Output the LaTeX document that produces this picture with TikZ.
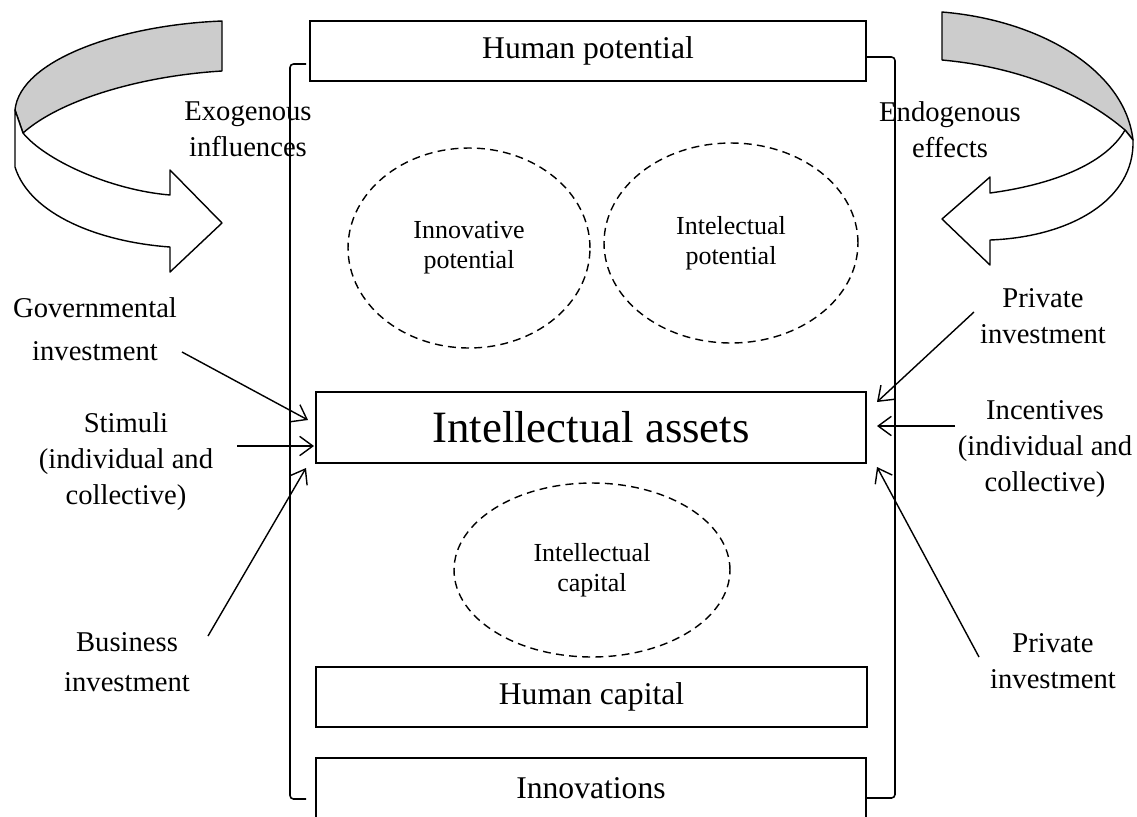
\documentclass[tikz,border=0pt]{standalone}
\usepackage{fontspec}
\setmainfont{Liberation Serif}
\usepackage{tikz}
\usetikzlibrary{shapes, arrows.meta, positioning, calc}

\tikzset{
  panel/.style={draw, line width=1.1pt, minimum width=11cm, minimum height=1.2cm, inner sep=0pt, font=\fontsize{18}{22}\selectfont},
  oval/.style={draw, ellipse, dash pattern=on 4.5pt off 3pt, line width=0.8pt, inner sep=0pt, align=center, font=\fontsize{14.8}{17}\selectfont},
  sidetext/.style={align=center, inner sep=0pt, font=\fontsize{16.3}{20.5}\selectfont},
  feed/.style={line width=0.8pt, -{Straight Barb[length=7.5pt,width=11pt]}},
  bracket/.style={line width=0.9pt, rounded corners=2pt},
  swirl/.style={line width=0.8pt, line join=round}
}

\begin{document}
\begin{tikzpicture}[x=0.02cm, y=-0.02cm]
  \path[use as bounding box, clip] (0,0) rectangle (1137,816);

  % boxes
  \node[panel, minimum width=11.12cm] (hpot) at (588,51) {Human potential};
  \node[panel, minimum height=1.42cm, font=\fontsize{25.5}{30}\selectfont] (assets) at (591,427.5) {Intellectual assets};
  \node[panel, minimum width=11.02cm] (hcap) at (591.5,697) {Human capital};
  \node[panel] (innov) at (591,788) {Innovations};

  % dashed ovals
  \node[oval, minimum width=4.84cm, minimum height=4cm] (ipot) at (469,248) {Innovative\\potential};
  \node[oval, minimum width=5.08cm, minimum height=4cm] (lpot) at (731,243) {Intelectual\\potential};
  \node[oval, minimum width=5.52cm, minimum height=3.48cm] (icap) at (592,570) {Intellectual\\capital};

  % side labels
  \node[sidetext] (exo) at (248,129) {Exogenous\\influences};
  \node[sidetext] (endo) at (950,130) {Endogenous\\effects};
  \node[sidetext] (gov) at (95,329) {Governmental\\[4pt]investment};
  \node[sidetext] (stim) at (126,462) {Stimuli\\(individual and\\collective)};
  \node[sidetext] (bus) at (127,662) {Business\\[2pt]investment};
  \node[sidetext] (privA) at (1043,316) {Private\\investment};
  \node[sidetext] (incent) at (1045,449) {Incentives\\(individual and\\collective)};
  \node[sidetext] (privB) at (1053,661) {Private\\investment};

  % brackets
  \draw[bracket] (306,64) -- (290,64) -- (290,799) -- (306,799);
  \draw[bracket] (866,57) -- (895,57) -- (895,798) -- (866,798);

  % curved arrows
  \filldraw[swirl, fill=black!20] (222,21) .. controls (120,25) and (20,60) .. (15,110) -- (23,133) .. controls (60,100) and (140,76) .. (222,71) -- cycle;
  \draw[swirl, fill=white] (15,110) -- (15,167) .. controls (30,215) and (100,242) .. (170,247) -- (170,272) -- (222,223) -- (170,170) -- (170,195) .. controls (110,190) and (45,160) .. (23,133) -- cycle;
  \filldraw[swirl, fill=black!20] (942,12) .. controls (1040,20) and (1125,70) .. (1133,140) -- (1125,130) .. controls (1090,100) and (1030,68) .. (942,60) -- cycle;
  \draw[swirl, fill=white] (1133,140) .. controls (1135,200) and (1070,237) .. (990,240) -- (990,265) -- (942,219) -- (990,177) -- (990,193) .. controls (1050,185) and (1105,165) .. (1125,130) -- cycle;

  % inputs to the assets box
  \coordinate (gov-o) at (182,352);
  \coordinate (stim-o) at (237,446);
  \coordinate (bus-o) at (208,636);
  \coordinate (privA-o) at (974,312);
  \coordinate (incent-o) at (955,426);
  \coordinate (privB-o) at (979,657);
  \coordinate (assets-g) at (308,420);
  \coordinate (assets-s) at (314,446);
  \coordinate (assets-b) at (306,468);
  \coordinate (assets-p) at (877,402);
  \coordinate (assets-i) at (877,426);
  \coordinate (assets-q) at (877,467);

  \draw[feed] (gov-o) -- (assets-g);
  \draw[feed] (stim-o) -- (assets-s);
  \draw[feed] (bus-o) -- (assets-b);
  \draw[feed] (privA-o) -- (assets-p);
  \draw[feed] (incent-o) -- (assets-i);
  \draw[feed] (privB-o) -- (assets-q);
\end{tikzpicture}
\end{document}
